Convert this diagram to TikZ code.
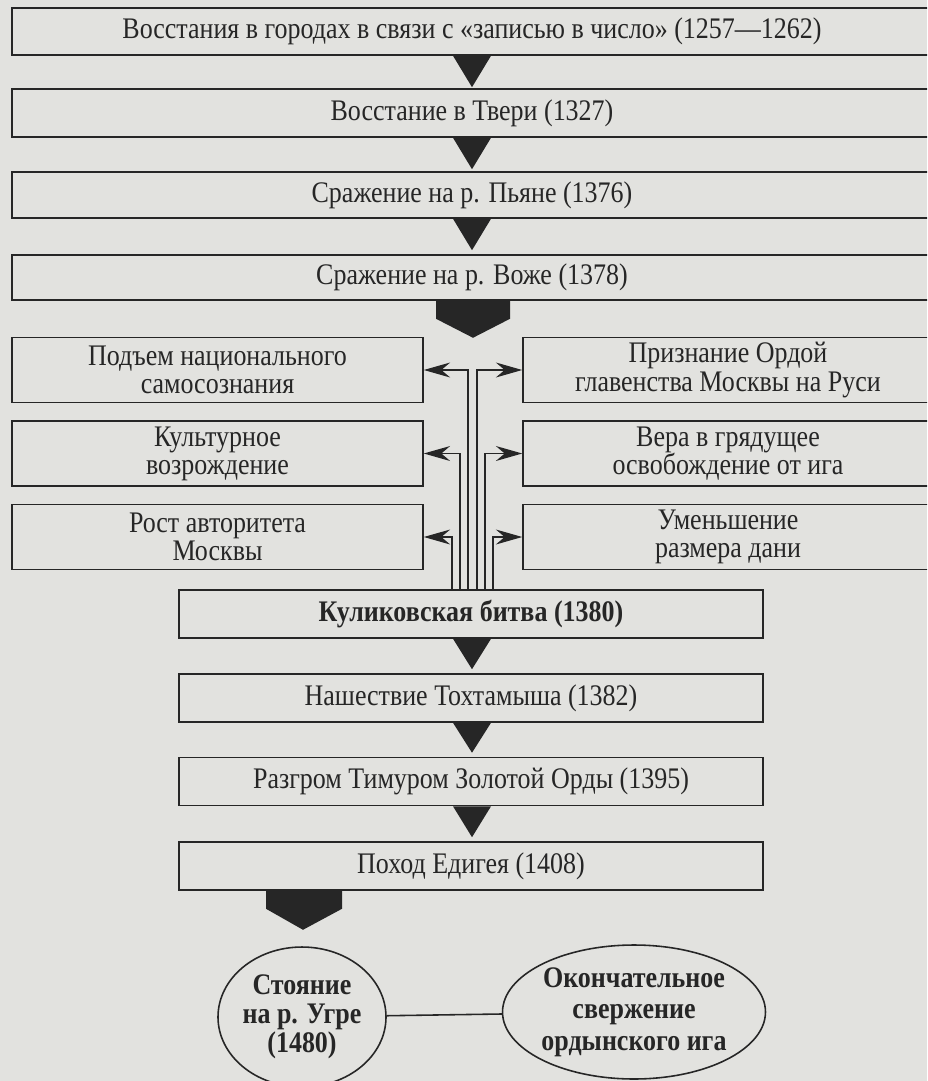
\documentclass[tikz,border=0pt]{standalone}
\usepackage{fontspec}
\setmainfont{Liberation Serif}[FakeStretch=0.87]
\usetikzlibrary{arrows.meta,shapes.geometric,calc}
\definecolor{paper}{RGB}{226,226,223}
\definecolor{ink}{RGB}{38,38,38}
\begin{document}
\begin{tikzpicture}[x=0.02cm,y=-0.02cm,
  txt/.style={font=\fontsize{17pt}{16pt}\selectfont, text=ink, align=center},
  box/.style={txt, draw=ink, line width=0.9pt, rectangle, inner sep=0pt},
  widebox/.style={box, minimum width=18.4cm},
  sidebox/.style={box, minimum height=1.3cm},
  lbox/.style={sidebox, minimum width=8.22cm},
  rbox/.style={sidebox, minimum width=8.2cm},
  midbox/.style={box, minimum width=11.68cm, minimum height=0.96cm},
  oval/.style={txt, draw=ink, line width=0.9pt, ellipse, inner sep=0pt},
  tri/.style={fill=ink},
  arr/.style={draw=ink, line width=0.9pt, -{Stealth[length=15pt,width=8.5pt,inset=5pt]}},
  link/.style={draw=ink, line width=0.9pt}
]
\useasboundingbox (0,0) rectangle (927,1081);
\fill[paper] (0,0) rectangle (927,1081);
\begin{scope}
\clip (0,0) rectangle (927,1081);
% top chain
\node[widebox, minimum height=0.94cm] (b1) at (472,31.5) {Восстания в городах в связи с «записью в число» (1257—1262)};
\node[widebox, minimum height=0.96cm] (b2) at (472,113) {Восстание в Твери (1327)};
\node[widebox, minimum height=0.92cm] (b3) at (472,195) {Сражение на р. Пьяне (1376)};
\node[widebox, minimum height=0.90cm] (b4) at (472,277.5) {Сражение на р. Воже (1378)};
% side boxes
\node[lbox] (l1) at (217.5,370) {Подъем национального\\самосознания};
\node[lbox] (l2) at (217.5,453.5) {Культурное\\возрождение};
\node[lbox] (l3) at (217.5,537) {Рост авторитета\\Москвы};
\node[rbox] (r1) at (728,370) {Признание Ордой\\главенства Москвы на Руси};
\node[rbox] (r2) at (728,453.5) {Вера в грядущее\\освобождение от ига};
\node[rbox] (r3) at (728,537) {Уменьшение\\размера дани};
% lower chain
\node[midbox] (kul) at (471,614) {\bfseries Куликовская битва (1380)};
\node[midbox] (t1) at (471,698) {Нашествие Тохтамыша (1382)};
\node[midbox] (t2) at (471,781.5) {Разгром Тимуром Золотой Орды (1395)};
\node[midbox] (t3) at (471,866) {Поход Едигея (1408)};
% ellipses
\node[oval, minimum width=3.02cm, minimum height=2.8cm, font=\fontsize{17pt}{16.5pt}\selectfont\bfseries] (e1) at (302,1017) {Стояние\\на р. Угре\\(1480)};
\node[oval, minimum width=5.26cm, minimum height=2.68cm, font=\fontsize{17pt}{18pt}\selectfont\bfseries] (e2) at (634,1012) {Окончательное\\свержение\\ордынского ига};
\draw[link] (e1) -- (e2);
% triangles
\fill[tri] ($(b1.south)+(-19,0)$) -- ($(b1.south)+(19,0)$) -- ($(b2.north)+(0,-1)$) -- cycle;
\fill[tri] ($(b2.south)+(-19,0)$) -- ($(b2.south)+(19,0)$) -- ($(b3.north)+(0,-2)$) -- cycle;
\fill[tri] ($(b3.south)+(-19,0)$) -- ($(b3.south)+(19,0)$) -- ($(b4.north)+(0,-4)$) -- cycle;
\fill[tri] ($(b4.south)+(-36,0)$) -- ($(b4.south)+(38,0)$) -- ($(b4.south)+(38,18)$) -- ($(b4.south)+(1,37)$) -- ($(b4.south)+(-36,18)$) -- cycle;
\fill[tri] ($(kul.south)+(-18,0)$) -- ($(kul.south)+(20,0)$) -- ($(t1.north)+(1,-4)$) -- cycle;
\fill[tri] ($(t1.south)+(-18,0)$) -- ($(t1.south)+(20,0)$) -- ($(t2.north)+(1,-4)$) -- cycle;
\fill[tri] ($(t2.south)+(-18,0)$) -- ($(t2.south)+(20,0)$) -- ($(t3.north)+(1,-4)$) -- cycle;
\fill[tri] ($(t3.south)+(-205,0)$) -- ($(t3.south)+(-129,0)$) -- ($(t3.south)+(-129,18)$) -- ($(t3.south)+(-168,39)$) -- ($(t3.south)+(-205,18)$) -- cycle;
% connectors from the battle
\draw[arr] ($(kul.north)+(-3,0)$) |- (l1.east);
\draw[arr] ($(kul.north)+(-11,0)$) |- (l2.east);
\draw[arr] ($(kul.north)+(-19,0)$) |- (l3.east);
\draw[arr] ($(kul.north)+(6,0)$) |- (r1.west);
\draw[arr] ($(kul.north)+(14,0)$) |- (r2.west);
\draw[arr] ($(kul.north)+(22,0)$) |- (r3.west);
\end{scope}
\end{tikzpicture}
\end{document}
